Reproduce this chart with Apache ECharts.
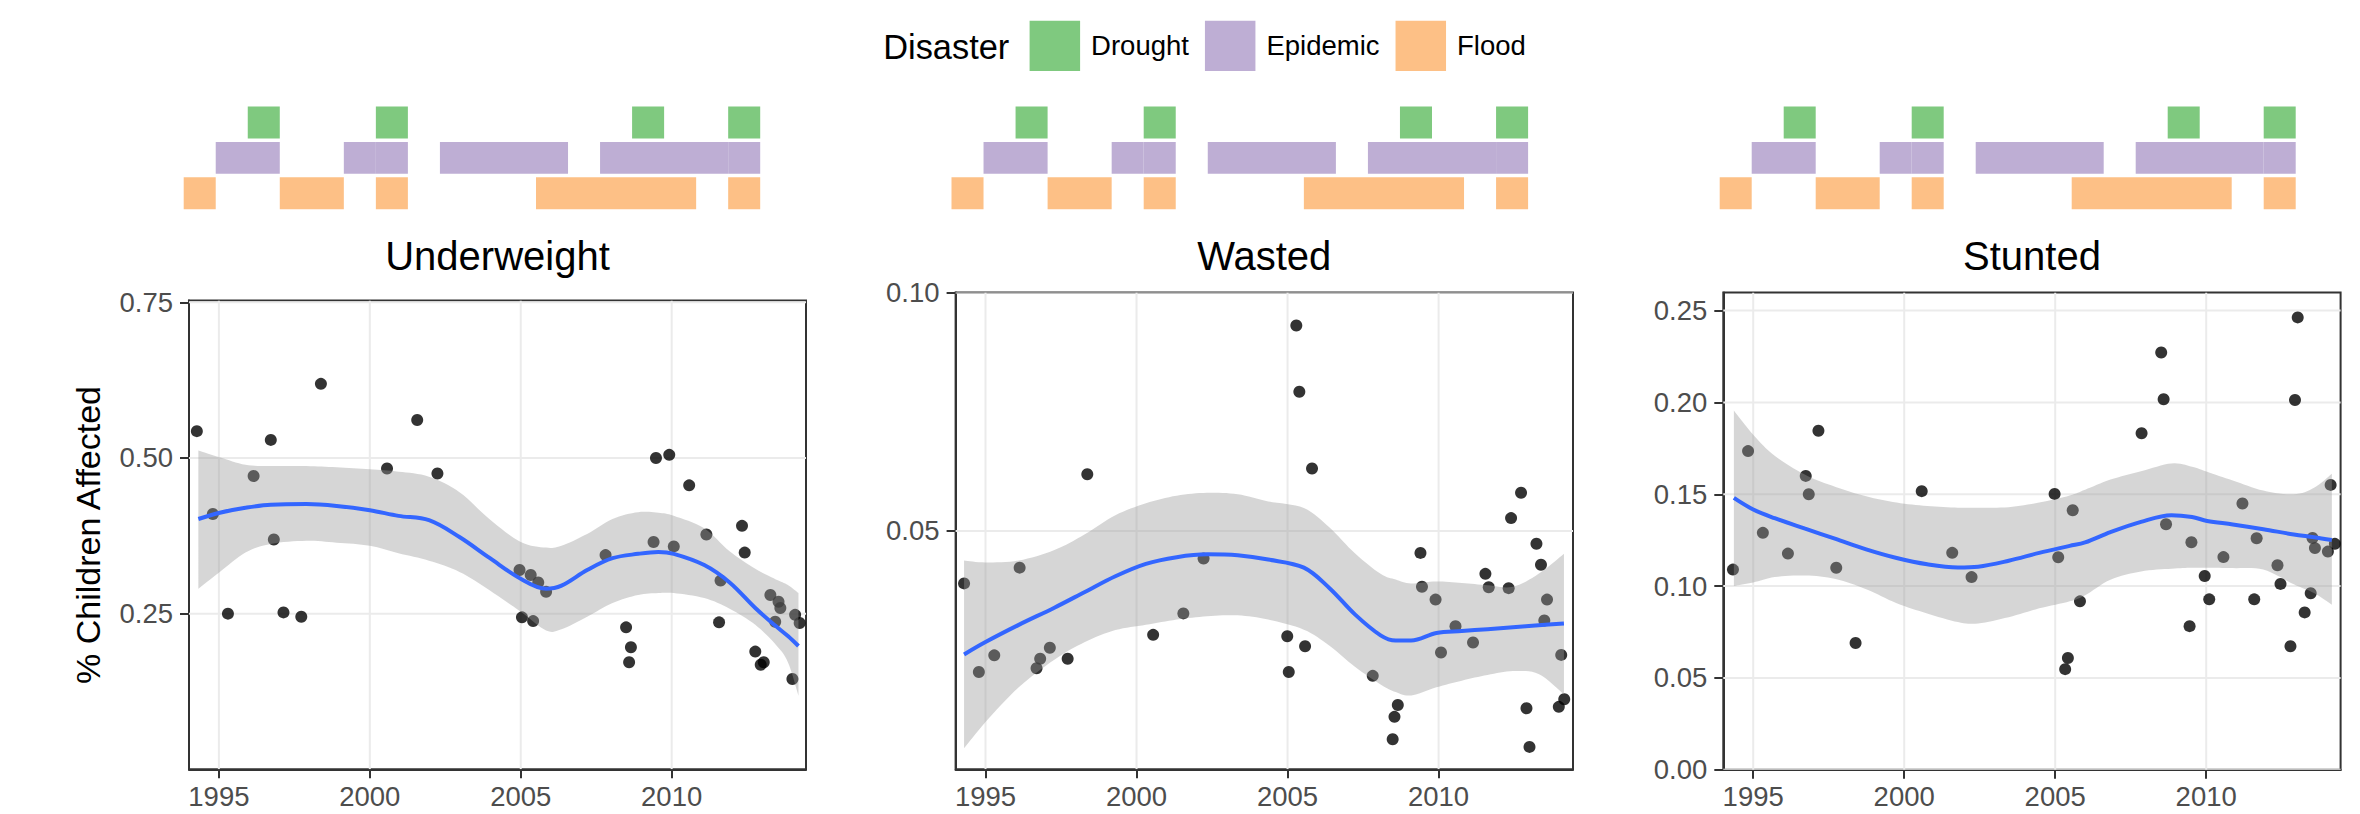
<!DOCTYPE html>
<html>
<head>
<meta charset="utf-8">
<script src="https://cdn.jsdelivr.net/npm/echarts@6/dist/echarts.min.js"></script>
<style>
html,body{margin:0;padding:0;background:#ffffff;}
#chart{width:2360px;height:814px;}
</style>
</head>
<body>
<div id="chart"></div>
<script>
// ---------------- DATA ----------------
const panelTitles = ['Underweight', 'Wasted', 'Stunted'];
const yAxisTitle = '% Children Affected';
const legendTitle = 'Disaster';
const disasterTypes = ['Flood', 'Epidemic', 'Drought']; // bottom -> top rows
const legendOrder = ['Drought', 'Epidemic', 'Flood'];

const xTicks = [1995, 2000, 2005, 2010];
const uwYTicks = [0.25, 0.50, 0.75];
const wsYTicks = [0.05, 0.10];
const stYTicks = [0.00, 0.05, 0.10, 0.15, 0.20, 0.25];

// disaster spans (year start, year end)
const droughtSpans = [[1997, 1998], [2001, 2002], [2009, 2010], [2012, 2013]];
const epidemicSpans = [[1996, 1998], [2000, 2001], [2001, 2002], [2003, 2007], [2008, 2012], [2012, 2013]];
const floodSpans = [[1995, 1996], [1998, 2000], [2001, 2002], [2006, 2011], [2012, 2013]];

// Underweight observations
const uwPoints = [[1994.27,0.543],[1994.80,0.410],[1995.30,0.250],[1996.15,0.471],[1996.72,0.529],[1996.82,0.369],[1997.14,0.252],[1997.73,0.245],[1998.38,0.619],[2000.57,0.483],[2001.57,0.561],[2002.24,0.475],[2004.96,0.320],[2005.33,0.312],[2005.58,0.300],[2005.84,0.285],[2005.04,0.244],[2005.41,0.238],[2007.81,0.344],[2008.49,0.228],[2008.65,0.196],[2008.59,0.172],[2009.40,0.365],[2009.48,0.500],[2009.92,0.505],[2010.07,0.358],[2010.58,0.456],[2011.15,0.377],[2011.62,0.303],[2011.57,0.236],[2012.33,0.391],[2012.42,0.348],[2012.77,0.189],[2012.95,0.168],[2013.05,0.172],[2013.27,0.280],[2013.54,0.269],[2013.60,0.259],[2013.43,0.237],[2014.00,0.145],[2014.09,0.248],[2014.24,0.235]];
// Underweight smooth fit and confidence band
const uwSmoothX = [1994.32,1995.03,1995.88,1996.72,1997.9,1998.9,2000.0,2000.95,2001.96,2002.97,2003.98,2005.0,2005.84,2006.35,2007.2,2008.04,2008.89,2009.56,2010.07,2011.08,2011.92,2012.77,2013.45,2013.85,2014.2];
const uwFit   = [0.402,0.412,0.420,0.425,0.426,0.423,0.416,0.407,0.400,0.373,0.339,0.306,0.290,0.295,0.320,0.339,0.346,0.349,0.346,0.328,0.300,0.259,0.230,0.214,0.198];
const uwUpper = [0.512,0.501,0.489,0.487,0.487,0.485,0.482,0.478,0.470,0.445,0.401,0.365,0.356,0.359,0.378,0.402,0.413,0.412,0.407,0.387,0.350,0.322,0.305,0.296,0.283];
const uwLower = [0.290,0.317,0.348,0.362,0.367,0.364,0.359,0.347,0.335,0.317,0.287,0.253,0.223,0.225,0.245,0.267,0.280,0.283,0.283,0.275,0.258,0.232,0.200,0.172,0.118];

// Wasted observations
const wsPoints = [[1994.29,0.0390],[1994.78,0.0204],[1995.29,0.0239],[1996.13,0.0423],[1996.69,0.0212],[1996.81,0.0232],[1997.13,0.0255],[1997.72,0.0232],[1998.37,0.0619],[2000.55,0.0282],[2001.55,0.0327],[2002.22,0.0442],[2005.29,0.0931],[2005.39,0.0792],[2005.81,0.0631],[2004.99,0.0279],[2005.04,0.0204],[2005.58,0.0258],[2007.82,0.0196],[2008.48,0.0063],[2008.54,0.0110],[2008.65,0.0135],[2009.40,0.0454],[2009.45,0.0383],[2009.90,0.0356],[2010.08,0.0245],[2010.56,0.0300],[2011.14,0.0266],[2011.55,0.0410],[2011.66,0.0382],[2012.32,0.0380],[2012.40,0.0527],[2012.73,0.0580],[2012.91,0.0128],[2013.01,0.0047],[2013.24,0.0473],[2013.39,0.0429],[2013.59,0.0356],[2013.50,0.0312],[2014.06,0.0240],[2013.98,0.0131],[2014.16,0.0147]];
const wsSmoothX = [1994.29,1995.0,1996.1,1997.28,1998.29,1999.3,2000.31,2001.33,2002.34,2003.35,2004.36,2005.54,2006.39,2007.23,2008.08,2008.58,2009.09,2009.93,2010.77,2011.62,2012.46,2013.31,2014.15];
const wsFit   = [0.0241,0.0267,0.0303,0.0339,0.0372,0.0405,0.0431,0.0445,0.0451,0.0449,0.0440,0.0423,0.0380,0.0325,0.0281,0.0270,0.0270,0.0286,0.0290,0.0294,0.0298,0.0302,0.0306];
const wsUpper = [0.0438,0.0434,0.0438,0.0460,0.0493,0.0533,0.0558,0.0574,0.0580,0.0577,0.0562,0.0548,0.0507,0.0453,0.0410,0.0398,0.0390,0.0394,0.0391,0.0386,0.0383,0.0410,0.0452];
const wsLower = [0.0044,0.0099,0.0172,0.0230,0.0267,0.0292,0.0303,0.0314,0.0321,0.0323,0.0314,0.0293,0.0259,0.0215,0.0178,0.0162,0.0155,0.0172,0.0186,0.0198,0.0206,0.0200,0.0157];

// Stunted observations
const stPoints = [[1994.33,0.109],[1994.83,0.1735],[1995.32,0.129],[1996.15,0.1177],[1996.74,0.160],[1996.84,0.150],[1997.16,0.1846],[1997.75,0.110],[1998.39,0.069],[2000.58,0.1517],[2001.59,0.1181],[2002.23,0.1049],[2004.98,0.1502],[2005.10,0.1157],[2005.58,0.1413],[2005.82,0.0917],[2005.33,0.0548],[2005.42,0.0609],[2007.86,0.1832],[2008.51,0.2272],[2008.59,0.2017],[2008.67,0.1337],[2009.51,0.1239],[2009.45,0.0782],[2009.95,0.1055],[2010.10,0.0928],[2010.57,0.1158],[2011.20,0.1450],[2011.59,0.0928],[2011.67,0.1261],[2012.36,0.1114],[2012.46,0.1012],[2012.79,0.0673],[2012.94,0.2013],[2013.03,0.2463],[2013.26,0.0857],[2013.46,0.0961],[2013.52,0.1262],[2013.60,0.1207],[2014.03,0.1188],[2014.12,0.1551],[2014.26,0.1230]];
const stSmoothX = [1994.36,1995.0,1995.71,1996.72,1997.73,1998.74,1999.75,2000.76,2001.78,2002.45,2003.46,2004.47,2005.48,2005.99,2006.83,2007.84,2008.85,2009.53,2010.03,2010.88,2011.89,2012.9,2013.57,2014.16];
const stFit   = [0.148,0.1417,0.137,0.1313,0.1257,0.1200,0.1153,0.1119,0.1102,0.1106,0.1138,0.1181,0.1219,0.1238,0.1294,0.1350,0.1386,0.1376,0.1355,0.1336,0.1310,0.1281,0.1266,0.1251];
const stUpper = [0.1956,0.1824,0.171,0.1606,0.154,0.1489,0.1455,0.1436,0.1427,0.1427,0.1430,0.1455,0.1493,0.1525,0.1580,0.1625,0.1668,0.1650,0.1622,0.1575,0.1520,0.1500,0.1535,0.1612];
const stLower = [0.1001,0.1020,0.1049,0.1058,0.1039,0.0983,0.0907,0.0851,0.0804,0.0797,0.0831,0.0879,0.0917,0.0950,0.1035,0.1080,0.1095,0.1100,0.1100,0.1098,0.1090,0.1010,0.0962,0.0899];

// ---------------- STYLE / LAYOUT ----------------
const FONT = '"Liberation Sans", Arial, Helvetica, sans-serif';
const COLORS = { Drought: '#7FC97F', Epidemic: '#BEAED4', Flood: '#FDC086' };
const SPANS = { Drought: droughtSpans, Epidemic: epidemicSpans, Flood: floodSpans };
const X_RANGE = [1994.01, 2014.45];
const BAR_X_RANGE = [1995, 2013];

const panels = [
  { points: uwPoints, sx: uwSmoothX, fit: uwFit, up: uwUpper, lo: uwLower, yTicks: uwYTicks, yRange: [0, 0.7527],
    grid: { left: 189, top: 300.6, width: 617, height: 468.7 }, bars: { left: 183.7, width: 576.5 } },
  { points: wsPoints, sx: wsSmoothX, fit: wsFit, up: wsUpper, lo: wsLower, yTicks: wsYTicks, yRange: [0, 0.10],
    grid: { left: 955.6, top: 292.6, width: 617.4, height: 476.7 }, bars: { left: 951.5, width: 576.6 } },
  { points: stPoints, sx: stSmoothX, fit: stFit, up: stUpper, lo: stLower, yTicks: stYTicks, yRange: [0, 0.2598],
    grid: { left: 1723.3, top: 292.6, width: 617.3, height: 477.2 }, bars: { left: 1719.7, width: 576 } }
];

function catmull(pts, n) {
  const out = [];
  const L = pts.length;
  for (let i = 0; i < L - 1; i++) {
    const p0 = pts[Math.max(i - 1, 0)], p1 = pts[i], p2 = pts[i + 1], p3 = pts[Math.min(i + 2, L - 1)];
    for (let k = 0; k < n; k++) {
      const t = k / n, t2 = t * t, t3 = t2 * t;
      const f = (a, b, c, d) => 0.5 * ((2 * b) + (-a + c) * t + (2 * a - 5 * b + 4 * c - d) * t2 + (-a + 3 * b - 3 * c + d) * t3);
      out.push([f(p0[0], p1[0], p2[0], p3[0]), f(p0[1], p1[1], p2[1], p3[1])]);
    }
  }
  out.push(pts[L - 1]);
  return out;
}

const grids = new Array(6), xAxes = new Array(6), yAxes = new Array(6), series = [], graphics = [];

panels.forEach((p, i) => {
  grids[i] = Object.assign({ show: true, borderColor: '#333333', borderWidth: 2, backgroundColor: '#ffffff', containLabel: false }, p.grid);
  xAxes[i] = {
    type: 'value', gridIndex: i, min: X_RANGE[0], max: X_RANGE[1],
    axisLine: { show: true, onZero: false, lineStyle: { color: '#333333', width: 2 } },
    axisTick: { show: true, length: 9, lineStyle: { color: '#333333', width: 2 }, customValues: xTicks },
    axisLabel: { show: true, customValues: xTicks, margin: 13, color: '#4d4d4d', fontSize: 27.5, fontFamily: FONT,
      formatter: v => String(Math.round(v)) },
    splitLine: { show: false }
  };
  yAxes[i] = {
    type: 'value', gridIndex: i, min: p.yRange[0], max: p.yRange[1],
    axisLine: { show: true, onZero: false, lineStyle: { color: '#333333', width: 2 } },
    axisTick: { show: true, length: 9, lineStyle: { color: '#333333', width: 2 }, customValues: p.yTicks },
    axisLabel: { show: true, customValues: p.yTicks, margin: 16, color: '#4d4d4d', fontSize: 27.5, fontFamily: FONT,
      formatter: v => Number(v).toFixed(2) },
    splitLine: { show: false }
  };

  // grid lines drawn through the axes' scales
  const yr = p.yRange;
  series.push({
    type: 'custom', xAxisIndex: i, yAxisIndex: i, z: 1, silent: true, clip: true,
    data: xTicks.map(v => [v, yr[0], 0]).concat(p.yTicks.map(v => [X_RANGE[0], v, 1])),
    encode: { x: 0, y: 1 },
    renderItem: (params, api) => {
      let a, b;
      if (api.value(2) === 0) { a = api.coord([api.value(0), yr[0]]); b = api.coord([api.value(0), yr[1]]); }
      else { a = api.coord([X_RANGE[0], api.value(1)]); b = api.coord([X_RANGE[1], api.value(1)]); }
      return { type: 'line', shape: { x1: a[0], y1: a[1], x2: b[0], y2: b[1] }, style: { stroke: '#ebebeb', lineWidth: 2 } };
    }
  });

  // observations
  series.push({
    type: 'scatter', xAxisIndex: i, yAxisIndex: i, z: 2, silent: true,
    symbol: 'circle', symbolSize: 12, itemStyle: { color: '#000000' }, data: p.points
  });

  // confidence band
  const sx = p.sx, up = p.up, lo = p.lo;
  series.push({
    type: 'custom', xAxisIndex: i, yAxisIndex: i, z: 3, silent: true, clip: false,
    data: sx.map((x, k) => [x, lo[k], up[k]]),
    encode: { x: 0, y: [1, 2] },
    renderItem: (params, api) => {
      if (params.dataIndex !== 0) return { type: 'group', children: [] };
      const top = catmull(sx.map((x, k) => api.coord([x, up[k]])), 8);
      const bot = catmull(sx.map((x, k) => api.coord([x, lo[k]])), 8).reverse();
      return { type: 'polygon', shape: { points: top.concat(bot) }, style: { fill: 'rgba(153,153,153,0.4)', stroke: null } };
    }
  });

  // smooth fit line
  series.push({
    type: 'line', xAxisIndex: i, yAxisIndex: i, z: 4, silent: true,
    data: sx.map((x, k) => [x, p.fit[k]]), smooth: 0.35, symbol: 'none', showSymbol: false,
    lineStyle: { color: '#3366FF', width: 4 }
  });

  // disaster bar strip
  const bg = 3 + i;
  grids[bg] = { left: p.bars.left, width: p.bars.width, top: 104.8, height: 106.2, show: false, containLabel: false };
  xAxes[bg] = { type: 'value', gridIndex: bg, min: BAR_X_RANGE[0], max: BAR_X_RANGE[1], show: false, splitLine: { show: false } };
  yAxes[bg] = { type: 'category', gridIndex: bg, data: disasterTypes, show: false };
  disasterTypes.forEach((t, ti) => {
    series.push({
      type: 'custom', name: t, xAxisIndex: bg, yAxisIndex: bg, silent: true,
      itemStyle: { color: COLORS[t] },
      data: SPANS[t].map(s => [s[0], s[1], ti]),
      encode: { x: [0, 1], y: 2 },
      renderItem: (params, api) => {
        const row = api.value(2);
        const s = api.coord([api.value(0), row]);
        const e = api.coord([api.value(1), row]);
        const h = api.size([0, 1])[1] * 0.9;
        return { type: 'rect', shape: { x: s[0], y: s[1] - h / 2, width: e[0] - s[0], height: h }, style: { fill: COLORS[t] } };
      }
    });
  });

  // panel title
  graphics.push({
    type: 'text', x: p.grid.left + p.grid.width / 2, y: 255.5, silent: true,
    style: { text: panelTitles[i], fontSize: 40, fontFamily: FONT, fill: '#000000', align: 'center', verticalAlign: 'middle' }
  });
});

graphics.push({
  type: 'text', x: 88, y: 535, rotation: Math.PI / 2, silent: true,
  style: { text: yAxisTitle, fontSize: 34, fontFamily: FONT, fill: '#000000', align: 'center', verticalAlign: 'middle' }
});
graphics.push({
  type: 'text', x: 883.2, y: 46.7, silent: true,
  style: { text: legendTitle, fontSize: 34.4, fontFamily: FONT, fill: '#000000', align: 'left', verticalAlign: 'middle' }
});

const option = {
  animation: false,
  backgroundColor: '#ffffff',
  textStyle: { fontFamily: FONT },
  legend: {
    data: legendOrder, left: 1029.6, top: 20.7, padding: 0,
    itemWidth: 50.5, itemHeight: 50.3, itemGap: 16, icon: 'rect', selectedMode: false,
    textStyle: { fontSize: 27.5, color: '#000000', fontFamily: FONT, padding: [0, 0, 0, 6] }
  },
  grid: grids,
  xAxis: xAxes,
  yAxis: yAxes,
  series: series,
  graphic: graphics
};

const chart = echarts.init(document.getElementById('chart'), null, { renderer: 'svg', width: 2360, height: 814 });
chart.setOption(option);
</script>
</body>
</html>
